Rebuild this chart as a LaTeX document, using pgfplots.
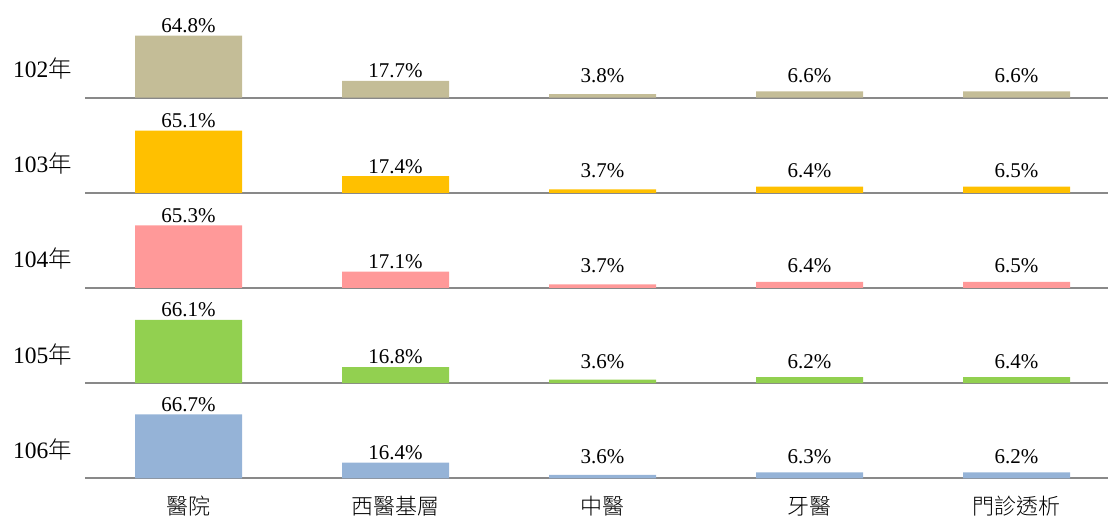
\documentclass[border=0pt]{standalone}
\usepackage{pgfplots}
\pgfplotsset{compat=1.18}
\usepackage{pgfplotstable}
\usepackage{fontspec}
\setmainfont{Liberation Serif}
\newfontfamily\cjk{Noto Sans CJK TC Light}

\definecolor{cA}{HTML}{C4BD97}
\definecolor{cB}{HTML}{FFC000}
\definecolor{cC}{HTML}{FF9999}
\definecolor{cD}{HTML}{92D050}
\definecolor{cE}{HTML}{95B3D7}
\definecolor{baseln}{RGB}{137,137,137}

\newcommand{\labfont}{\fontsize{21}{25}\selectfont}
\newcommand{\yrfont}{\fontsize{23.5}{27}\selectfont}
\newcommand{\catfont}{\fontsize{22}{26}\selectfont\cjk}

\pgfplotstableread{
x v
0 64.8
1 17.7
2 3.8
3 6.6
4 6.6
}\tA
\pgfplotstableread{
x v
0 65.1
1 17.4
2 3.7
3 6.4
4 6.5
}\tB
\pgfplotstableread{
x v
0 65.3
1 17.1
2 3.7
3 6.4
4 6.5
}\tC
\pgfplotstableread{
x v
0 66.1
1 16.8
2 3.6
3 6.2
4 6.4
}\tD
\pgfplotstableread{
x v
0 66.7
1 16.4
2 3.6
3 6.3
4 6.2
}\tE

\pgfplotsset{
  panel/.style={
    scale only axis, width=1023pt, height=95.15pt,
    xmin=-0.5, xmax=4.442, ymin=0, ymax=99.4,
    axis y line=none, axis x line=bottom,
    x axis line style={-, draw=baseln, line width=2pt},
    xtick=\empty, ytick=\empty, clip=false, anchor=south west,
  },
  labels/.style={
    draw=none, mark=none, point meta=explicit,
    nodes near coords={\pgfmathprintnumber[fixed,fixed zerofill,precision=1,assume math mode=true]{\pgfplotspointmeta}\%},
    nodes near coords style={anchor=base, inner sep=0pt, font=\labfont, text=black},
  },
}

\newcommand{\panel}[4]{%
  \begin{axis}[panel, at={(85pt,#1)}, #4]
    \addplot[ybar, bar width=107pt, fill=#3, draw=none] table[x=x,y=v]{#2};
    \addplot[labels] table[x=x, y expr={max(\thisrow{v}+3.3,15.8)}, meta=v]{#2};
  \end{axis}}

\begin{document}
\begin{tikzpicture}[x=1pt,y=1pt]
\useasboundingbox (0,0) rectangle (1108,517);
\panel{419.3pt}{\tA}{cA}{}
\panel{324.15pt}{\tB}{cB}{}
\panel{229pt}{\tC}{cC}{}
\panel{133.85pt}{\tD}{cD}{}
\panel{38.7pt}{\tE}{cE}{xtick={0,1,2,3,4}, major tick length=0pt,
  xticklabels={醫院,西醫基層,中醫,牙醫,門診透析},
  xticklabel style={anchor=center, yshift=-28pt, font=\catfont}}
\node[anchor=base west, font=\yrfont, inner sep=0pt] at (13,439.3) {102{\cjk 年}};
\node[anchor=base west, font=\yrfont, inner sep=0pt] at (13,344.15) {103{\cjk 年}};
\node[anchor=base west, font=\yrfont, inner sep=0pt] at (13,249) {104{\cjk 年}};
\node[anchor=base west, font=\yrfont, inner sep=0pt] at (13,153.85) {105{\cjk 年}};
\node[anchor=base west, font=\yrfont, inner sep=0pt] at (13,58.7) {106{\cjk 年}};
\end{tikzpicture}
\end{document}
